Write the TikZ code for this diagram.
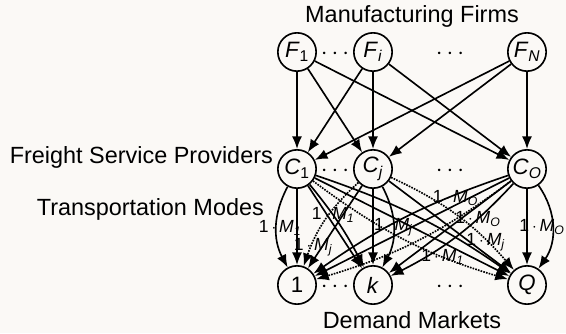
\documentclass[tikz,border=0pt]{standalone}
\usepackage{fontspec}
\setmainfont{Liberation Sans}
\usetikzlibrary{arrows.meta}
\definecolor{paper}{RGB}{251,249,246}
\tikzstyle{firm}=[circle, draw, line width=1.4pt, minimum size=1.15cm, inner sep=0pt, font=\fontsize{19}{22}\selectfont]
\tikzstyle{link}=[line width=1.4pt, -{Latex[length=3.8mm,width=3mm]}]
\tikzstyle{mode}=[font=\fontsize{15}{17}\selectfont, inner sep=0pt]
\tikzstyle{title}=[font=\fontsize{20}{24}\selectfont]
\newcommand{\nm}[2]{\textit{#1}\textsubscript{#2}}
\newcommand{\mlab}[1]{1\,$\cdot$\,\textit{M}\textsubscript{\textit{#1}}}

\begin{document}
\begin{tikzpicture}[x=0.03cm, y=-0.03cm]
  \fill[paper] (0,0) rectangle (566,333);
  \useasboundingbox (0,0) rectangle (566,333);
  % firms
  \node[firm] (F1) at (297,52) {\nm{F}{1}};
  \node[firm] (Fi) at (373,52) {\nm{F}{\textit{i}}};
  \node[firm] (FN) at (527,52) {\nm{F}{\textit{N}}};
  % freight service providers
  \node[firm] (C1) at (297,169) {\nm{C}{1}};
  \node[firm] (Cj) at (373,169) {\nm{C}{\textit{j}}};
  \node[firm] (CO) at (527,169) {\nm{C}{\textit{O}}};
  % demand markets
  \node[firm] (D1) at (297,285) {1};
  \node[firm] (Dk) at (373,285) {\textit{k}};
  \node[firm] (DQ) at (527,285) {\textit{Q}};
  % dots
  \node[title] (dF1) at (335,54) {$\cdots$};
  \node[title] (dF2) at (450,54) {$\cdots$};
  \node[title] (dC1) at (335,171) {$\cdots$};
  \node[title] (dC2) at (450,171) {$\cdots$};
  \node[title] (dD1) at (335,287) {$\cdots$};
  \node[title] (dD2) at (450,287) {$\cdots$};
  % titles
  \node[title] (tF) at (412,16) {Manufacturing Firms};
  \node[title, anchor=east] (tC) at (277,157) {Freight Service Providers};
  \node[title, anchor=east] (tM) at (268,209) {Transportation Modes};
  \node[title] (tD) at (412,320) {Demand Markets};

  % firms to providers
  \foreach \f in {F1,Fi,FN}
    \foreach \c in {C1,Cj,CO}
      \draw[link] (\f) -- (\c);

  % providers to markets, one straight link each
  \foreach \c in {C1,Cj,CO}
    \foreach \d in {D1,Dk,DQ}
      \draw[link] (\c) -- (\d);

  % the other modes
  \draw[link] (C1) to[bend right=28] node[mode, pos=0.5, xshift=3pt, yshift=-1pt] {\mlab{1}} (D1);
  \draw[link] (C1) to[bend left=6] node[mode, pos=0.38] {\mlab{1}} (Dk);
  \draw[link] (C1) to[bend left=8] (DQ);
  \draw[link, densely dotted] (C1) to[bend right=10] node[mode, pos=0.7, solid] {\mlab{1}} (DQ);
  \draw[link, densely dotted] (Cj) to[bend right=14] node[mode, pos=0.76, yshift=-4pt] {\mlab{j}} (D1);
  \draw[link] (Cj) to[bend left=28] node[mode, pos=0.5] {\mlab{j}} (Dk);
  \draw[link, densely dotted] (Cj) to[bend left=12] node[mode, pos=0.75, yshift=-2pt] {\mlab{j}} (DQ);
  \draw[link] (CO) to[bend right=8] node[mode, pos=0.24, yshift=-3pt] {\mlab{O}} (D1);
  \draw[link, densely dotted] (CO) to[bend left=10] (D1);
  \draw[link] (CO) to[bend left=10] node[mode, pos=0.31] {\mlab{O}} (Dk);
  \draw[link] (CO) to[bend left=35] node[mode, pos=0.5, xshift=-9pt] {\mlab{O}} (DQ);
\end{tikzpicture}
\end{document}
